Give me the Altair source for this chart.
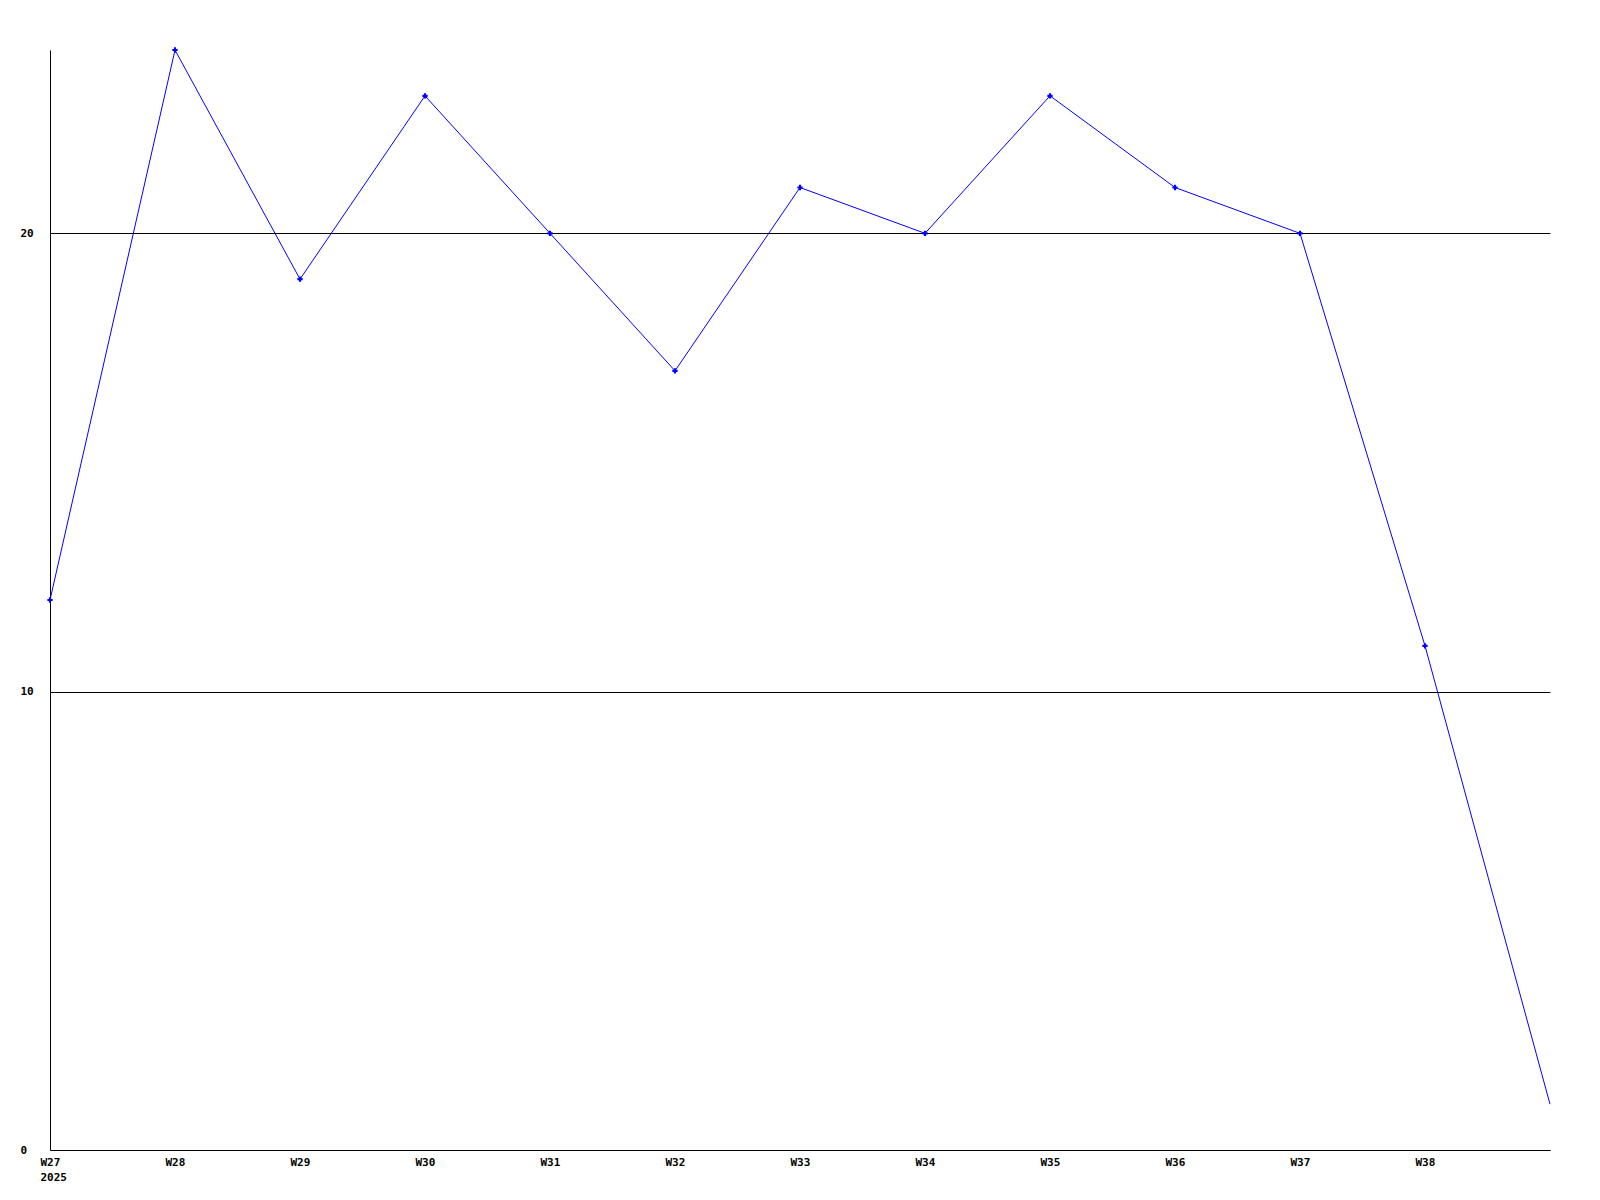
import altair as alt
import pandas as pd

weeks = ["W27", "W28", "W29", "W30", "W31", "W32", "W33", "W34", "W35", "W36", "W37", "W38", "W39"]
values = [12, 24, 19, 23, 20, 17, 21, 20, 23, 21, 20, 11, 1]
year_label = "2025"
marked = [True] * 12 + [False]

df = pd.DataFrame({"idx": list(range(len(weeks))), "week": weeks, "value": values, "marked": marked})

label_expr = ("datum.value == 0 ? ['W27', '" + year_label + "'] : "
              + "(" + "[" + ",".join("'" + w + "'" for w in weeks[:-1]) + ", ''][datum.value])")

x = alt.X("idx:Q", scale=alt.Scale(domain=[0, 12], nice=False, zero=False),
          axis=alt.Axis(values=list(range(12)), labelExpr=label_expr, title=None, grid=False,
                        ticks=False, domainColor="black", domainWidth=1, labelFont="DejaVu Sans Mono",
                        labelFontWeight="bold", labelFontSize=11, labelColor="black", labelPadding=6,
                        labelLineHeight=15, labelFlush=False, labelOverlap=False,
                        labelAlign="left", labelOffset=-10))
y = alt.Y("value:Q", scale=alt.Scale(domain=[0, 24], nice=False),
          axis=alt.Axis(values=[0, 10, 20], title=None, grid=True, gridColor="black", gridOpacity=1,
                        gridWidth=1, ticks=False, domainColor="black", domainWidth=1,
                        labelFont="DejaVu Sans Mono", labelFontWeight="bold", labelFontSize=11,
                        labelColor="black", labelAlign="left", labelPadding=30))

line = alt.Chart(df).mark_line(color="#0000ff", strokeWidth=1).encode(x=x, y=y)
pts = alt.Chart(df).transform_filter("datum.marked").mark_point(
    shape="cross", filled=True, color="#0000ff", size=28, opacity=1).encode(x=x, y=y)

chart = (line + pts).properties(
    width=1500, height=1100,
    autosize=alt.AutoSizeParams(type="none"),
    padding={"left": 42, "top": 42, "right": 42, "bottom": 42},
).configure(background="white").configure_view(stroke=None, strokeWidth=0)

chart.save("out.html", embed_options={"renderer": "svg", "actions": False})
